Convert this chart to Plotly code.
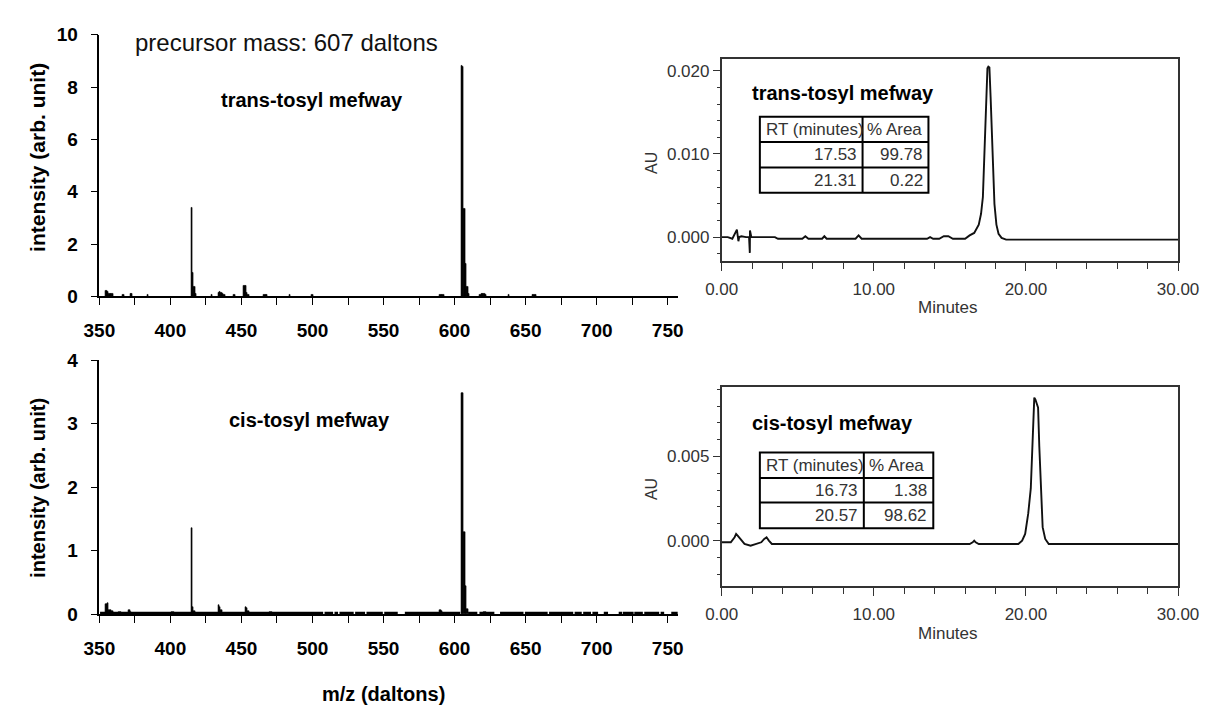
import plotly.graph_objects as go

# ---------------- data ----------------
# MS/MS spectrum, trans-tosyl mefway (m/z, intensity)
trans_mz = [355, 356, 357, 358, 359, 367, 372, 373, 384,
            415, 416, 417, 418, 429, 434, 435, 436, 437, 438, 445,
            452, 453, 454, 455, 466, 467, 468, 484, 500,
            590, 591, 592, 605, 606, 607, 608, 609, 610,
            618, 619, 620, 621, 622, 638, 655, 656, 657]
trans_int = [0.20, 0.18, 0.10, 0.10, 0.08, 0.07, 0.08, 0.08, 0.07,
             3.40, 0.90, 0.35, 0.08, 0.07, 0.12, 0.19, 0.15, 0.08, 0.07, 0.07,
             0.42, 0.40, 0.12, 0.05, 0.07, 0.07, 0.07, 0.07, 0.07,
             0.07, 0.07, 0.07, 8.80, 8.78, 3.35, 1.25, 0.35, 0.10,
             0.07, 0.10, 0.11, 0.11, 0.07, 0.06, 0.07, 0.07, 0.07]

# MS/MS spectrum, cis-tosyl mefway
cis_mz = [355, 356, 357, 358, 359, 364, 365, 371, 372, 401, 402,
          415, 416, 417, 434, 435, 436, 453, 454, 455, 470, 471,
          590, 591, 605, 606, 607, 608, 609, 621, 622]
cis_int = [0.16, 0.17, 0.07, 0.06, 0.05, 0.03, 0.03, 0.07, 0.04, 0.03, 0.03,
           1.35, 0.11, 0.05, 0.15, 0.12, 0.06, 0.12, 0.10, 0.05, 0.03, 0.03,
           0.07, 0.05, 3.48, 3.48, 1.30, 0.45, 0.08, 0.04, 0.03]
# low-level baseline noise in the cis spectrum: (start m/z, end m/z) runs
cis_noise_level = 0.02
cis_noise_runs = [(350.5, 507.5), (508.5, 514.5), (515.5, 518), (519, 529),
                  (530, 537), (538, 549.5), (550.5, 560), (565, 604),
                  (609.5, 616), (617.5, 628), (632, 648.5), (649.5, 665.5),
                  (666.5, 683.5), (684.5, 689.5), (690.5, 696), (697, 701),
                  (705, 708), (715.5, 718), (718.5, 726), (726.5, 732.5),
                  (733.5, 744), (745, 747.5), (752.5, 757)]

# HPLC chromatograms (minutes, AU)
trans_time = [0, 0.4, 0.7, 0.85, 1.0, 1.05, 1.1, 1.15, 1.3, 1.6, 1.8, 1.85, 1.86,
              1.95, 2.1, 2.6, 3.5, 3.7, 5.3, 5.5, 5.7, 6.6, 6.75, 6.9, 8.8, 9.0, 9.2,
              13.5, 13.7, 13.9, 14.3, 14.6, 14.9, 15.2, 16.0, 16.3, 16.6, 16.9,
              17.05, 17.17, 17.27, 17.38, 17.47, 17.53, 17.6, 17.68, 17.8, 17.93,
              18.06, 18.2, 18.4, 18.7, 30.0]
trans_au = [0.0000, 0.0000, -0.0002, 0.0003, 0.0009, 0.0002, -0.0005, 0.0000,
            0.0001, 0.0000, 0.0000, -0.0019, 0.0008, 0.0000, 0.0000, 0.0000,
            0.0000, -0.0002, -0.0002, 0.0001, -0.0002, -0.0002, 0.0001, -0.0002,
            -0.0002, 0.0002, -0.0002, -0.0002, 0.0000, -0.0002, -0.0002, 0.0001,
            0.0001, -0.0002, -0.0002, 0.0002, 0.0005, 0.0015, 0.0028, 0.0048,
            0.0098, 0.0165, 0.0203, 0.0205, 0.0204, 0.0168, 0.0097, 0.0040,
            0.0015, 0.0004, -0.0001, -0.0003, -0.0003]

cis_time = [0, 0.6, 0.85, 0.95, 1.05, 1.15, 1.3, 1.5, 1.9, 2.3, 2.6, 2.8, 2.95,
            3.1, 3.3, 3.6, 16.3, 16.5, 16.6, 16.7, 16.9, 19.5, 19.75, 19.95,
            20.15, 20.32, 20.45, 20.55, 20.62, 20.7, 20.8, 20.88, 20.97, 21.1,
            21.27, 21.5, 30.0]
cis_au = [-0.0001, -0.0001, 0.0002, 0.0004, 0.0003, 0.0002, 0.0000, -0.0002,
          -0.0003, -0.0002, -0.0001, 0.0001, 0.0002, 0.0000, -0.0002, -0.0002,
          -0.0002, -0.0001, 0.0000, -0.0001, -0.0002, -0.0002, 0.0000, 0.0004,
          0.0016, 0.0031, 0.0065, 0.0085, 0.0084, 0.0082, 0.0079, 0.0056,
          0.0035, 0.0008, 0.0001, -0.0002, -0.0002]

# peak tables
table_header = ["RT (minutes)", "% Area"]
trans_rt = ["17.53", "21.31"]
trans_area = ["99.78", "0.22"]
cis_rt = ["16.73", "20.57"]
cis_area = ["1.38", "98.62"]

# ---------------- layout helpers ----------------
W, H = 1222, 714
def X(px):
    return px / W
def Y(py):
    return 1 - py / H

FONT = "Liberation Sans, Arial, sans-serif"
BLACK = "#000000"
GRAY = "#333333"

fig = go.Figure()

# spectra
fig.add_trace(go.Bar(x=trans_mz, y=trans_int, width=1.0, marker=dict(color=BLACK, line=dict(color=BLACK, width=0.6)),
                     xaxis="x", yaxis="y", showlegend=False))
noise_x, noise_y = [], []
for a, b in cis_noise_runs:
    noise_x += [a, b, None]
    noise_y += [cis_noise_level, cis_noise_level, None]
fig.add_trace(go.Scatter(x=noise_x, y=noise_y, mode="lines", line=dict(color=BLACK, width=2.5),
                         xaxis="x2", yaxis="y2", showlegend=False, connectgaps=False))
fig.add_trace(go.Bar(x=cis_mz, y=cis_int, width=1.0, marker=dict(color=BLACK, line=dict(color=BLACK, width=0.6)),
                     xaxis="x2", yaxis="y2", showlegend=False))

# chromatograms
fig.add_trace(go.Scatter(x=trans_time, y=trans_au, mode="lines", line=dict(color="#111111", width=1.9),
                         xaxis="x3", yaxis="y3", showlegend=False))
fig.add_trace(go.Scatter(x=cis_time, y=cis_au, mode="lines", line=dict(color="#111111", width=1.9),
                         xaxis="x4", yaxis="y4", showlegend=False))

spec_tickfont = dict(family=FONT, size=19, color=BLACK, weight="bold")
chrom_tickfont = dict(family=FONT, size=17, color=GRAY)

def spec_x(anchor):
    return dict(domain=[X(85), X(682.6)], range=[350, 757.5], anchor=anchor,
                showline=True, linecolor=BLACK, linewidth=1.5, ticks="outside", ticklen=7,
                tickwidth=1.3, tickcolor=BLACK, tick0=350, dtick=50, tickfont=spec_tickfont,
                minor=dict(dtick=25, tick0=350, ticks="outside", ticklen=7, tickwidth=1.3, tickcolor=BLACK),
                showgrid=False, zeroline=False, ticklabelstandoff=9, fixedrange=True)

def spec_y(anchor, dom, rng, dt):
    return dict(domain=dom, range=rng, anchor=anchor, showline=True, linecolor=BLACK, linewidth=1.5,
                ticks="outside", ticklen=7, tickwidth=1.3, tickcolor=BLACK, tick0=0, dtick=dt,
                tickfont=spec_tickfont, showgrid=False, zeroline=False, ticklabelstandoff=9)

def chrom_x(anchor):
    return dict(domain=[X(727.3), X(1198.3)], range=[0, 30], anchor=anchor, showline=True, mirror=True,
                linecolor=GRAY, linewidth=1.6, ticks="outside", ticklen=8, tickwidth=1.3, tickcolor=GRAY,
                tick0=0, dtick=10, tickformat=".2f", tickfont=chrom_tickfont,
                minor=dict(dtick=2, tick0=0, ticks="outside", ticklen=6, tickwidth=1.3, tickcolor=GRAY),
                showgrid=False, zeroline=False, ticklabelstandoff=4)

def chrom_y(anchor, dom, rng, dt, mdt):
    return dict(domain=dom, range=rng, anchor=anchor, showline=True, mirror=True,
                linecolor=GRAY, linewidth=1.6, ticks="outside", ticklen=7, tickwidth=1.3, tickcolor=GRAY,
                tick0=0, dtick=dt, tickformat=".3f", tickfont=chrom_tickfont,
                minor=dict(dtick=mdt, tick0=0, ticks="outside", ticklen=3, tickwidth=1.3, tickcolor=GRAY),
                showgrid=False, zeroline=False, ticklabelstandoff=0)

fig.update_layout(
    width=W, height=H, margin=dict(l=0, r=0, t=0, b=0),
    paper_bgcolor="white", plot_bgcolor="white",
    font=dict(family=FONT, color=BLACK),
    bargap=0,
    xaxis=spec_x("y"),
    yaxis=spec_y("x", [Y(295), Y(25.5)], [0, 10], 2),
    xaxis2=spec_x("y2"),
    yaxis2=spec_y("x2", [Y(622.7), Y(360.7)], [0, 4], 1),
    xaxis3=chrom_x("y3"),
    yaxis3=chrom_y("x3", [Y(258.3), Y(50)], [-0.00284, 0.02147], 0.01, 0.002),
    xaxis4=chrom_x("y4"),
    yaxis4=chrom_y("x4", [Y(593.3), Y(388.3)], [-0.00269, 0.00914], 0.005, 0.001),
)

ann = []
def text(px, py, s, size, bold=False, color=BLACK, xanchor="left", angle=0):
    ann.append(dict(x=X(px), y=Y(py), xref="paper", yref="paper", text=s, showarrow=False,
                    xanchor=xanchor, yanchor="middle", textangle=angle,
                    font=dict(family=FONT, size=size, color=color, weight="bold" if bold else "normal")))

# left panel texts
text(120, 33, "precursor mass: 607 daltons", 24, color="#111111")
text(208, 93, "trans-tosyl mefway", 20, bold=True)
text(217, 422, "cis-tosyl mefway", 20, bold=True)
text(21, 152, "intensity (arb. unit)", 21, bold=True, xanchor="center", angle=-90)
text(21, 492, "intensity (arb. unit)", 20, bold=True, xanchor="center", angle=-90)
text(378, 705, "m/z (daltons)", 20, bold=True, xanchor="center")

# right panel texts
text(757, 85, "trans-tosyl mefway", 20, bold=True)
text(757, 425, "cis-tosyl mefway", 20, bold=True)
text(655, 158, "AU", 16, color=GRAY, xanchor="center", angle=-90)
text(655, 494, "AU", 16, color=GRAY, xanchor="center", angle=-90)
text(961, 307, "Minutes", 17, color=GRAY, xanchor="center")
text(961, 642, "Minutes", 17, color=GRAY, xanchor="center")

shapes = []
def table(x0, xc, x1, rows, rt, area):
    line = dict(color=BLACK, width=2)
    shapes.append(dict(type="rect", xref="paper", yref="paper", x0=X(x0), x1=X(x1),
                       y0=Y(rows[-1]), y1=Y(rows[0]), line=line))
    shapes.append(dict(type="line", xref="paper", yref="paper", x0=X(xc), x1=X(xc),
                       y0=Y(rows[-1]), y1=Y(rows[0]), line=line))
    for r in rows[1:-1]:
        shapes.append(dict(type="line", xref="paper", yref="paper", x0=X(x0), x1=X(x1),
                           y0=Y(r), y1=Y(r), line=line))
    mid = lambda k: (rows[k] + rows[k + 1]) / 2
    text(x0 + 4, mid(0), table_header[0], 17, color=GRAY)
    text(xc + 3, mid(0), table_header[1], 17, color=GRAY)
    for k in range(len(rt)):
        text(xc - 4, mid(k + 1), rt[k], 17, color=GRAY, xanchor="right")
        text(x1 - 4, mid(k + 1), area[k], 17, color=GRAY, xanchor="right")

table(766.7, 872.7, 940.7, [110, 136, 162.3, 188.3], trans_rt, trans_area)
table(766.7, 874, 945.7, [456, 482.3, 507.3, 534], cis_rt, cis_area)

fig.update_layout(annotations=ann, shapes=shapes)
fig.write_html("out.html")
